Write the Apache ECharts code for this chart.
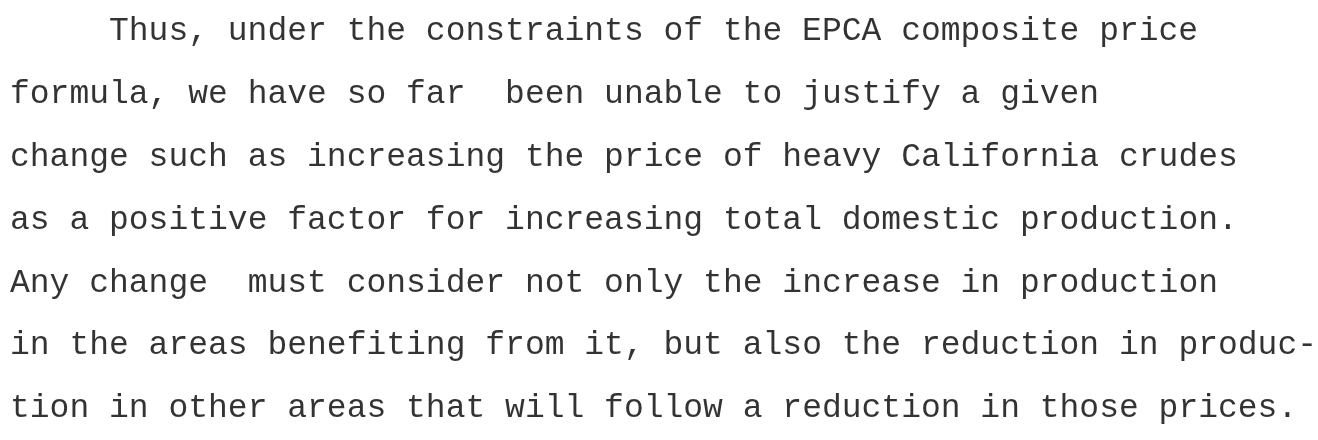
<!DOCTYPE html>
<html>
<head>
<meta charset="utf-8">
<script src="https://cdn.jsdelivr.net/npm/echarts@6/dist/echarts.min.js"></script>
<style>
  html, body { margin: 0; padding: 0; background: #ffffff; }
  #chart { width: 1318px; height: 440px; }
</style>
</head>
<body>
<div id="chart"></div>
<script>
// Lines of typed text, as they appear on the page
var textLines = [
  "Thus, under the constraints of the EPCA composite price",
  "formula, we have so far  been unable to justify a given",
  "change such as increasing the price of heavy California crudes",
  "as a positive factor for increasing total domestic production.",
  "Any change  must consider not only the increase in production",
  "in the areas benefiting from it, but also the reduction in produc-",
  "tion in other areas that will follow a reduction in those prices."
];
// Starting column (typewriter indent) of each line
var startColumns = [5, 0, 0, 0, 0, 0, 0];
// Line numbers on the page
var lineNumbers = [0, 1, 2, 3, 4, 5, 6];

var data = textLines.map(function (t, i) {
  return { value: [startColumns[i], lineNumbers[i]], text: t };
});

var chart = echarts.init(document.getElementById('chart'), null, { renderer: 'canvas' });
chart.setOption({
  backgroundColor: '#ffffff',
  animation: false,
  grid: { left: 10, right: 1.2, top: -9.55, bottom: -8.95, containLabel: false },
  xAxis: { type: 'value', min: 0, max: 66, show: false },
  yAxis: { type: 'value', min: -0.5, max: 6.5, inverse: true, show: false },
  series: [{
    type: 'scatter',
    symbolSize: 0,
    silent: true,
    data: data,
    label: {
      show: true,
      position: 'right',
      distance: 0,
      align: 'left',
      verticalAlign: 'middle',
      fontFamily: '"Liberation Mono", "DejaVu Sans Mono", monospace',
      fontSize: 33,
      color: '#000000',
      formatter: function (p) { return p.data.text; }
    }
  }]
});
</script>
</body>
</html>
